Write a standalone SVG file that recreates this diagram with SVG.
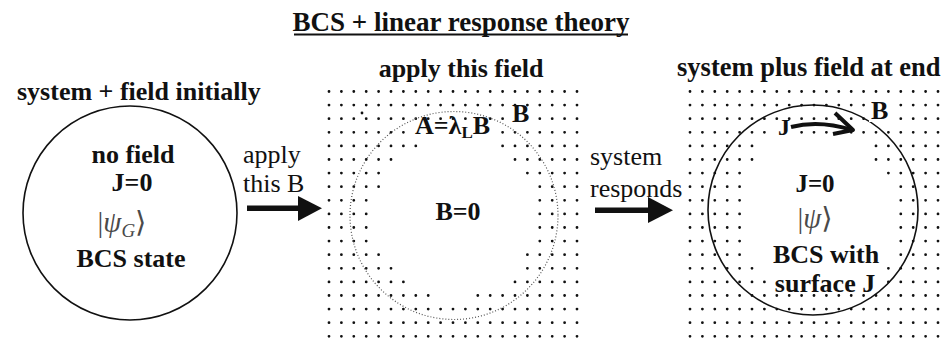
<svg xmlns="http://www.w3.org/2000/svg" width="945" height="344" viewBox="0 0 945 344">
<style>
text{font-family:"Liberation Serif","Times New Roman",serif;fill:#111}
.b{font-weight:bold;font-size:26px}
.r{font-size:26px}
.m{text-anchor:middle}
.ket{font-family:"Liberation Serif","DejaVu Serif","DejaVu Sans",serif;font-size:29px;fill:#4a4a4a;text-anchor:middle}
.dots line{stroke:#111;stroke-width:2.8;stroke-linecap:round;stroke-dasharray:0 12.4}
.ring{fill:none;stroke:#111;stroke-width:1.6}
.arrow{fill:#111}
</style>
<rect width="945" height="344" fill="#fff"/>
<g id="title">
<text class="b m" x="461" y="31" style="font-size:27px">BCS + linear response theory</text>
<line x1="294" y1="34.5" x2="628" y2="34.5" stroke="#111" stroke-width="2"/>
</g>
<g id="node-initial">
<text class="b" x="17" y="100">system + field initially</text>
<circle class="ring" cx="130" cy="213" r="107"/>
<text class="b m" x="133" y="163">no field</text>
<text class="b m" x="132" y="191">J=0</text>
<text class="ket" x="122" y="232"><tspan>|</tspan><tspan font-style="italic">ψ</tspan><tspan font-style="italic" style="font-size:19px" dy="5">G</tspan><tspan dy="-5">⟩</tspan></text>
<text class="b m" x="131" y="267">BCS state</text>
</g>
<g id="node-field">
<text class="b m" x="461" y="77">apply this field</text>
<g class="dots">
<line x1="329" y1="91.5" x2="577.1" y2="91.5"/>
<line x1="329" y1="105.1" x2="577.1" y2="105.1"/>
<line x1="329" y1="118.7" x2="577.1" y2="118.7"/>
<line x1="329" y1="132.3" x2="577.1" y2="132.3"/>
<line x1="329" y1="145.9" x2="415.9" y2="145.9"/><line x1="502.6" y1="145.9" x2="577.1" y2="145.9"/>
<line x1="329" y1="159.5" x2="391.1" y2="159.5"/><line x1="515" y1="159.5" x2="577.1" y2="159.5"/>
<line x1="329" y1="173.1" x2="378.7" y2="173.1"/><line x1="527.4" y1="173.1" x2="577.1" y2="173.1"/>
<line x1="329" y1="186.7" x2="378.7" y2="186.7"/><line x1="539.8" y1="186.7" x2="577.1" y2="186.7"/>
<line x1="329" y1="200.3" x2="366.3" y2="200.3"/><line x1="539.8" y1="200.3" x2="577.1" y2="200.3"/>
<line x1="329" y1="213.9" x2="366.3" y2="213.9"/><line x1="539.8" y1="213.9" x2="577.1" y2="213.9"/>
<line x1="329" y1="227.5" x2="366.3" y2="227.5"/><line x1="539.8" y1="227.5" x2="577.1" y2="227.5"/>
<line x1="329" y1="241.1" x2="366.3" y2="241.1"/><line x1="539.8" y1="241.1" x2="577.1" y2="241.1"/>
<line x1="329" y1="254.7" x2="378.7" y2="254.7"/><line x1="527.4" y1="254.7" x2="577.1" y2="254.7"/>
<line x1="329" y1="268.3" x2="391.1" y2="268.3"/><line x1="527.4" y1="268.3" x2="577.1" y2="268.3"/>
<line x1="329" y1="281.9" x2="403.5" y2="281.9"/><line x1="515" y1="281.9" x2="577.1" y2="281.9"/>
<line x1="329" y1="295.5" x2="428.3" y2="295.5"/><line x1="477.8" y1="295.5" x2="577.1" y2="295.5"/>
<line x1="329" y1="309.1" x2="577.1" y2="309.1"/>
<line x1="329" y1="322.7" x2="577.1" y2="322.7"/>
<line x1="329" y1="336.3" x2="577.1" y2="336.3"/>
<line x1="362" y1="113" x2="362.1" y2="113"/>
</g>
<circle cx="454" cy="215.5" r="104" fill="none" stroke="#555" stroke-width="1.2" stroke-dasharray="1 2"/>
<rect x="413" y="121" width="82" height="18" fill="#fff"/>
<rect x="510" y="107" width="21" height="17" fill="#fff"/>
<text class="b" x="415" y="134">A=λ<tspan style="font-size:17px" dy="4">L</tspan><tspan dy="-4">B</tspan></text>
<text class="b" x="512" y="122">B</text>
<text class="b m" x="458" y="220">B=0</text>
</g>
<g id="node-end">
<text class="b" x="677" y="76" style="font-size:26.5px">system plus field at end</text>
<g class="dots">
<line x1="690" y1="91.5" x2="938.1" y2="91.5"/>
<line x1="690" y1="105.1" x2="938.1" y2="105.1"/>
<line x1="690" y1="118.7" x2="938.1" y2="118.7"/>
<line x1="690" y1="132.3" x2="938.1" y2="132.3"/>
<line x1="690" y1="145.9" x2="752.1" y2="145.9"/><line x1="876" y1="145.9" x2="938.1" y2="145.9"/>
<line x1="690" y1="159.5" x2="752.1" y2="159.5"/><line x1="876" y1="159.5" x2="938.1" y2="159.5"/>
<line x1="690" y1="173.1" x2="739.7" y2="173.1"/><line x1="888.4" y1="173.1" x2="938.1" y2="173.1"/>
<line x1="690" y1="186.7" x2="739.7" y2="186.7"/><line x1="900.8" y1="186.7" x2="938.1" y2="186.7"/>
<line x1="690" y1="200.3" x2="739.7" y2="200.3"/><line x1="900.8" y1="200.3" x2="938.1" y2="200.3"/>
<line x1="690" y1="213.9" x2="739.7" y2="213.9"/><line x1="900.8" y1="213.9" x2="938.1" y2="213.9"/>
<line x1="690" y1="227.5" x2="739.7" y2="227.5"/><line x1="900.8" y1="227.5" x2="938.1" y2="227.5"/>
<line x1="690" y1="241.1" x2="739.7" y2="241.1"/><line x1="900.8" y1="241.1" x2="938.1" y2="241.1"/>
<line x1="690" y1="254.7" x2="739.7" y2="254.7"/><line x1="900.8" y1="254.7" x2="938.1" y2="254.7"/>
<line x1="690" y1="268.3" x2="752.1" y2="268.3"/><line x1="888.4" y1="268.3" x2="938.1" y2="268.3"/>
<line x1="690" y1="281.9" x2="764.5" y2="281.9"/><line x1="888.4" y1="281.9" x2="938.1" y2="281.9"/>
<line x1="690" y1="295.5" x2="938.1" y2="295.5"/>
<line x1="690" y1="309.1" x2="938.1" y2="309.1"/>
<line x1="690" y1="322.7" x2="938.1" y2="322.7"/>
<line x1="690" y1="336.3" x2="938.1" y2="336.3"/>
</g>
<circle class="ring" cx="813" cy="210" r="105"/>
<rect x="869" y="100" width="21" height="22" fill="#fff"/>
<rect x="774" y="121" width="17" height="16" fill="#fff"/>
<text class="b" x="871" y="119">B</text>
<text class="b" x="778" y="135" style="font-size:24px">J</text>
<path d="M791 127 C810 122 830 123 852 130" fill="none" stroke="#111" stroke-width="4"/>
<path d="M835 113 L853 130 L833 134" fill="none" stroke="#111" stroke-width="4" stroke-linejoin="round"/>
<text class="b m" x="815" y="192" style="font-size:25px">J=0</text>
<text class="ket" x="815" y="228"><tspan>|</tspan><tspan font-style="italic">ψ</tspan><tspan>⟩</tspan></text>
<text class="b m" x="826" y="263">BCS with</text>
<text class="b m" x="825" y="292">surface J</text>
</g>
<g id="connectors">
<text class="r" x="243" y="163">apply</text>
<text class="r" x="243" y="192">this B</text>
<rect class="arrow" x="247" y="205.5" width="53" height="5.5"/>
<polygon class="arrow" points="298,196 322,208.3 298,221"/>
<text class="r" x="590" y="165">system</text>
<text class="r" x="590" y="197">responds</text>
<rect class="arrow" x="595" y="207.5" width="55" height="5.5"/>
<polygon class="arrow" points="648,197 673,210.3 648,223"/>
</g>
</svg>
